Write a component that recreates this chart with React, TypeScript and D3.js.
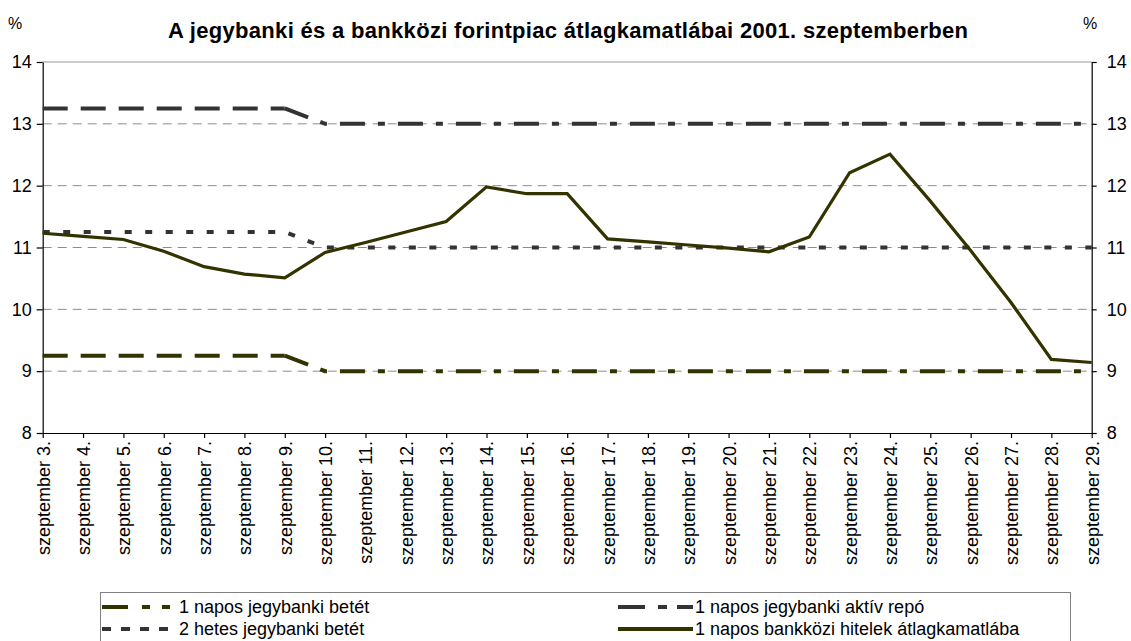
import { useRef, useEffect } from 'react';
import * as d3 from 'd3';

// napok (x tengely)
const napok = [
  'szeptember 3.', 'szeptember 4.', 'szeptember 5.', 'szeptember 6.', 'szeptember 7.',
  'szeptember 8.', 'szeptember 9.', 'szeptember 10.', 'szeptember 11.', 'szeptember 12.',
  'szeptember 13.', 'szeptember 14.', 'szeptember 15.', 'szeptember 16.', 'szeptember 17.',
  'szeptember 18.', 'szeptember 19.', 'szeptember 20.', 'szeptember 21.', 'szeptember 22.',
  'szeptember 23.', 'szeptember 24.', 'szeptember 25.', 'szeptember 26.', 'szeptember 27.',
  'szeptember 28.', 'szeptember 29.'
];

const betet1napos = [9.25, 9.25, 9.25, 9.25, 9.25, 9.25, 9.25, 9, 9, 9, 9, 9, 9, 9, 9, 9, 9, 9, 9, 9, 9, 9, 9, 9, 9, 9, 9];
const betet2hetes = [11.25, 11.25, 11.25, 11.25, 11.25, 11.25, 11.25, 11, 11, 11, 11, 11, 11, 11, 11, 11, 11, 11, 11, 11, 11, 11, 11, 11, 11, 11, 11];
const aktivRepo = [13.25, 13.25, 13.25, 13.25, 13.25, 13.25, 13.25, 13, 13, 13, 13, 13, 13, 13, 13, 13, 13, 13, 13, 13, 13, 13, 13, 13, 13, 13, 13];
const bankkozi = [11.23, 11.18, 11.13, 10.94, 10.69, 10.57, 10.51, 10.92, 11.08, 11.25, 11.42, 11.98, 11.87, 11.87, 11.14,
  11.09, 11.04, 10.99, 10.93, 11.17, 12.21, 12.51, 11.75, 10.95, 10.11, 9.19, 9.14];

const yTicks = [8, 9, 10, 11, 12, 13, 14];

const cim = 'A jegybanki és a bankközi forintpiac átlagkamatlábai 2001. szeptemberben';
const legendNevek = ['1 napos jegybanki betét', '2 hetes jegybanki betét', '1 napos jegybanki aktív repó', '1 napos bankközi hitelek átlagkamatlába'];

const OLIVE = '#333300';
const GRAY = '#333333';
const FONT = 'Arial, "Liberation Sans", sans-serif';

export default function App() {
  const svgRef = useRef(null);
  const width = 1131, height = 641;
  const margin = { top: 62, right: 39.3, bottom: 208, left: 42.7 };

  useEffect(() => {
    document.body.style.margin = '0';
    const svg = d3.select(svgRef.current);
    svg.selectAll('*').remove();

    const x = d3.scalePoint().domain(napok).range([margin.left, width - margin.right]);
    const y = d3.scaleLinear().domain([8, 14]).range([height - margin.bottom, margin.top]);
    const x0 = margin.left, x1 = width - margin.right;

    // racsvonalak
    svg.append('g').selectAll('line')
      .data(yTicks.filter(d => d > 8 && d < 14))
      .join('line')
      .attr('x1', x0).attr('x2', x1)
      .attr('y1', d => y(d)).attr('y2', d => y(d))
      .attr('stroke', '#8c8c8c').attr('stroke-width', 1)
      .attr('stroke-dasharray', '9,6');
    svg.append('line')
      .attr('x1', x0).attr('x2', x1).attr('y1', y(14)).attr('y2', y(14))
      .attr('stroke', '#999').attr('stroke-width', 1.2);

    // tengelyek
    const left = svg.append('g').attr('transform', `translate(${x0},0)`)
      .call(d3.axisLeft(y).tickValues(yTicks).tickSizeOuter(0).tickSizeInner(6).tickPadding(5).tickFormat(d3.format('d')));
    const right = svg.append('g').attr('transform', `translate(${x1},0)`)
      .call(d3.axisRight(y).tickValues(yTicks).tickSizeOuter(0).tickSizeInner(5).tickPadding(10).tickFormat(d3.format('d')));
    const bottom = svg.append('g').attr('transform', `translate(0,${y(8)})`)
      .call(d3.axisBottom(x).tickSizeOuter(0).tickSizeInner(5).tickPadding(6));
    [left, right, bottom].forEach(g => {
      g.selectAll('path, line').attr('stroke', '#000').attr('stroke-width', 1.2);
      g.selectAll('text').attr('font-family', FONT).attr('font-size', 18).attr('fill', '#000');
    });
    bottom.selectAll('text')
      .attr('transform', 'rotate(-90)')
      .attr('text-anchor', 'end')
      .attr('x', -8).attr('y', 0).attr('dy', '0.36em');

    const line = d3.line<number>().x((d, i) => x(napok[i])!).y(d => y(d));
    const lineFrom = (vals: number[], start: number) =>
      d3.line<number>().x((d, i) => x(napok[i + start])!).y(d => y(d))(vals);

    // 1 napos betet
    svg.append('path').attr('d', lineFrom(betet1napos.slice(0, 7), 0))
      .attr('fill', 'none').attr('stroke', OLIVE).attr('stroke-width', 4).attr('stroke-dasharray', '25,13');
    svg.append('path').attr('d', lineFrom(betet1napos.slice(6), 6))
      .attr('fill', 'none').attr('stroke', OLIVE).attr('stroke-width', 4).attr('stroke-dasharray', '25,13,7,13');

    // 2 hetes betet
    svg.append('path').attr('d', line(betet2hetes))
      .attr('fill', 'none').attr('stroke', GRAY).attr('stroke-width', 4).attr('stroke-dasharray', '7,13.5');

    // aktiv repo
    svg.append('path').attr('d', lineFrom(aktivRepo.slice(0, 7), 0))
      .attr('fill', 'none').attr('stroke', GRAY).attr('stroke-width', 4).attr('stroke-dasharray', '25,13');
    svg.append('path').attr('d', lineFrom(aktivRepo.slice(6), 6))
      .attr('fill', 'none').attr('stroke', GRAY).attr('stroke-width', 4).attr('stroke-dasharray', '25,13,7,13');

    // bankkozi
    svg.append('path').attr('d', line(bankkozi))
      .attr('fill', 'none').attr('stroke', OLIVE).attr('stroke-width', 3.2).attr('stroke-linejoin', 'miter');

    // cim
    svg.append('text').attr('x', 568).attr('y', 38).attr('text-anchor', 'middle')
      .attr('font-family', FONT).attr('font-weight', 'bold').attr('font-size', 22)
      .attr('textLength', 800).attr('lengthAdjust', 'spacing').text(cim);
    svg.append('text').attr('x', 15).attr('y', 29).attr('text-anchor', 'middle')
      .attr('font-family', FONT).attr('font-size', 16).text('%');
    svg.append('text').attr('x', 1090).attr('y', 29).attr('text-anchor', 'middle')
      .attr('font-family', FONT).attr('font-size', 16).text('%');

    // jelmagyarazat
    svg.append('rect').attr('x', 100.5).attr('y', 592.5).attr('width', 970).attr('height', 70)
      .attr('fill', 'none').attr('stroke', '#808080').attr('stroke-width', 1);
    const items = [
      { nev: legendNevek[0], x: 102, y: 607, color: OLIVE, dash: '26,14,8,12,8,200' },
      { nev: legendNevek[1], x: 102, y: 629, color: GRAY, dash: '9,10' },
      { nev: legendNevek[2], x: 618, y: 607, color: GRAY, dash: '27,13,9,10,16,200' },
      { nev: legendNevek[3], x: 618, y: 629, color: OLIVE, dash: null },
    ];
    const lg = svg.append('g').selectAll('g').data(items).join('g');
    lg.append('line')
      .attr('x1', d => d.x).attr('x2', d => d.x + (d.x < 300 ? 69 : 75))
      .attr('y1', d => d.y).attr('y2', d => d.y)
      .attr('stroke', d => d.color).attr('stroke-width', 4)
      .attr('stroke-dasharray', d => d.dash);
    lg.append('text')
      .attr('x', d => d.x + 77).attr('y', d => d.y).attr('dy', '0.35em')
      .attr('font-family', FONT).attr('font-size', 18).text(d => d.nev);
  }, []);

  return (
    <svg ref={svgRef} width={width} height={height} style={{ display: 'block', background: '#fff' }} />
  );
}
